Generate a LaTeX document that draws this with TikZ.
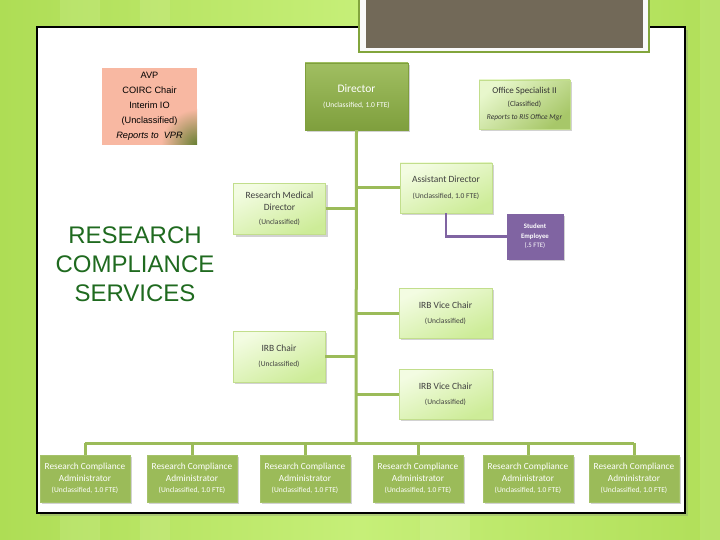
\documentclass[tikz,border=0pt]{standalone}
\usepackage{fontspec}
\setmainfont{Carlito}
\newfontfamily\arialfont{Liberation Sans}
\usetikzlibrary{shadows}

\definecolor{bglime}{HTML}{C6EF78}
\definecolor{bgleft}{HTML}{AEDD55}
\definecolor{olive}{HTML}{9BBB59}
\definecolor{olivedark}{HTML}{7F9F3D}
\definecolor{palegreen}{HTML}{F3FCE2}
\definecolor{lightgreen}{HTML}{CDEC98}
\definecolor{boxedge}{HTML}{C2DE8C}
\definecolor{studentpurple}{HTML}{8064A2}
\definecolor{salmon}{HTML}{F8B8A2}
\definecolor{headerbrown}{HTML}{726958}
\definecolor{framegreen}{HTML}{82A53C}
\definecolor{titlegreen}{HTML}{1F6A1F}
\definecolor{textgray}{HTML}{404040}

\newcommand{\posttitle}[1]{{\fontsize{9.5}{11}\selectfont #1}}
\newcommand{\postnote}[1]{{\fontsize{7.5}{9}\selectfont #1}}

\tikzset{
  post/.style={minimum width=92pt, minimum height=50pt, inner sep=1pt,
    align=center, drop shadow={shadow xshift=2pt, shadow yshift=-2pt, opacity=0.35}},
  lightpost/.style={post, draw=boxedge, top color=palegreen, bottom color=lightgreen,
    shading angle=25, text=textgray},
  adminpost/.style={post, fill=olive, draw=olive!90!white, text=white,
    minimum width=90pt, minimum height=47pt, font=\fontsize{9.3}{11.5}\selectfont},
  orgline/.style={draw=olive, line width=3pt},
}

\begin{document}
\begin{tikzpicture}[x=1pt, y=-1pt]
  \useasboundingbox (0,0) rectangle (720,540);

  % Background
  \shade[left color=bgleft, right color=bglime] (0,0) rectangle (360,540);
  \shade[left color=bglime, right color=bgleft!90!bglime] (360,0) rectangle (720,540);
  \foreach \sx/\sw in {60/40, 140/30, 420/50, 700/20}
    \fill[white, opacity=0.1] (\sx,0) rectangle ++(\sw,540);
  \fill[gray, opacity=0.3] (40,30) rectangle (688,516);
  \draw[fill=white, line width=1.4pt] (37,27) rectangle (685,513);

  % Header box
  \fill[framegreen] (358,-2) rectangle (650,53);
  \fill[white!96!gray] (360,-2) rectangle (648,51);
  \fill[headerbrown] (366,-2) rectangle (643,48);

  % AVP box
  \fill[salmon] (102,68) rectangle (197,145);
  \begin{scope}
    \clip (102,68) rectangle (197,145);
    \shade[inner color=olivedark!80!black, outer color=salmon] (197,145) circle (36);
  \end{scope}
  \node[font=\arialfont\fontsize{9.2}{15}\selectfont, align=center, inner sep=0pt] (avp)
    at (149.5,106.5) {AVP\\COIRC Chair\\Interim IO\\(Unclassified)\\\textit{Reports to\ \ VPR}};

  % Title
  \node[font=\arialfont\fontsize{24}{29}\selectfont, text=titlegreen, align=center] (title)
    at (135,264) {RESEARCH\\COMPLIANCE\\SERVICES};

  % Director
  \node[post, minimum width=103pt, minimum height=67pt, top color=olive!95!white,
    bottom color=olivedark, draw=olivedark, text=white] (dir) at (356.5,96.5)
    {{\fontsize{11.5}{13}\selectfont Director}\\[3pt]\postnote{(Unclassified, 1.0 FTE)}};

  % Office Specialist II
  \node[post, minimum width=91pt, minimum height=49pt, draw=boxedge,
    top color=palegreen!70!lightgreen, bottom color=olive!75!lightgreen, shading angle=40,
    text=black!80] (osp) at (524.5,104.5)
    {{\fontsize{9}{10}\selectfont Office Specialist II}\\[1pt]
     {\fontsize{7.6}{8}\selectfont (Classified)}\\[1pt]
     {\fontsize{7.4}{8}\selectfont\itshape Reports to RIS Office Mgr}};

  % Staff reporting to the director
  \node[lightpost] (ad) at (446,188)
    {\posttitle{Assistant Director}\\[4pt]\postnote{(Unclassified, 1.0 FTE)}};
  \node[lightpost, minimum height=51pt] (rmd) at (279.5,209)
    {\posttitle{Research Medical}\\\posttitle{Director}\\[2pt]\postnote{(Unclassified)}};
  \node[lightpost, minimum width=93pt] (ivca) at (445.5,313)
    {\posttitle{IRB Vice Chair}\\[3pt]\postnote{(Unclassified)}};
  \node[lightpost, minimum width=93pt] (ivcb) at (445.5,394)
    {\posttitle{IRB Vice Chair}\\[3pt]\postnote{(Unclassified)}};
  \node[lightpost, minimum height=51pt] (irb) at (279,356.5)
    {\posttitle{IRB Chair}\\[3pt]\postnote{(Unclassified)}};

  % Student employee
  \node[post, minimum width=56pt, minimum height=45pt, fill=studentpurple,
    draw=studentpurple, text=white, font=\fontsize{6.8}{9.5}\selectfont] (stu) at (535,236.5)
    {\textbf{Student}\\\textbf{Employee}\\(.5 FTE)};

  % Administrators
  \foreach \n/\ax in {1/85, 2/192, 3/305, 4/418, 5/528, 6/634}
    \node[adminpost] (adm\n) at (\ax,478.5)
      {Research Compliance\\Administrator\\\postnote{(Unclassified, 1.0 FTE)}};

  % Connectors
  \coordinate (bus) at (356,443);
  \draw[orgline] (dir.south) -- (bus);
  \draw[orgline] (adm1.north |- bus) -- (adm6.north |- bus);
  \foreach \n in {1,...,6}
    \draw[orgline] (adm\n.north |- bus) -- (adm\n.north);
  \draw[orgline] (ad.west) -- (ad.west -| bus);
  \draw[orgline] (rmd.east) -- (rmd.east -| bus);
  \draw[orgline] (ivca.west) -- (ivca.west -| bus);
  \draw[orgline] (ivcb.west) -- (ivcb.west -| bus);
  \draw[orgline] (irb.east) -- (irb.east -| bus);
  \draw[studentpurple, line width=2.4pt] (ad.south) |- (stu.west);
\end{tikzpicture}
\end{document}
